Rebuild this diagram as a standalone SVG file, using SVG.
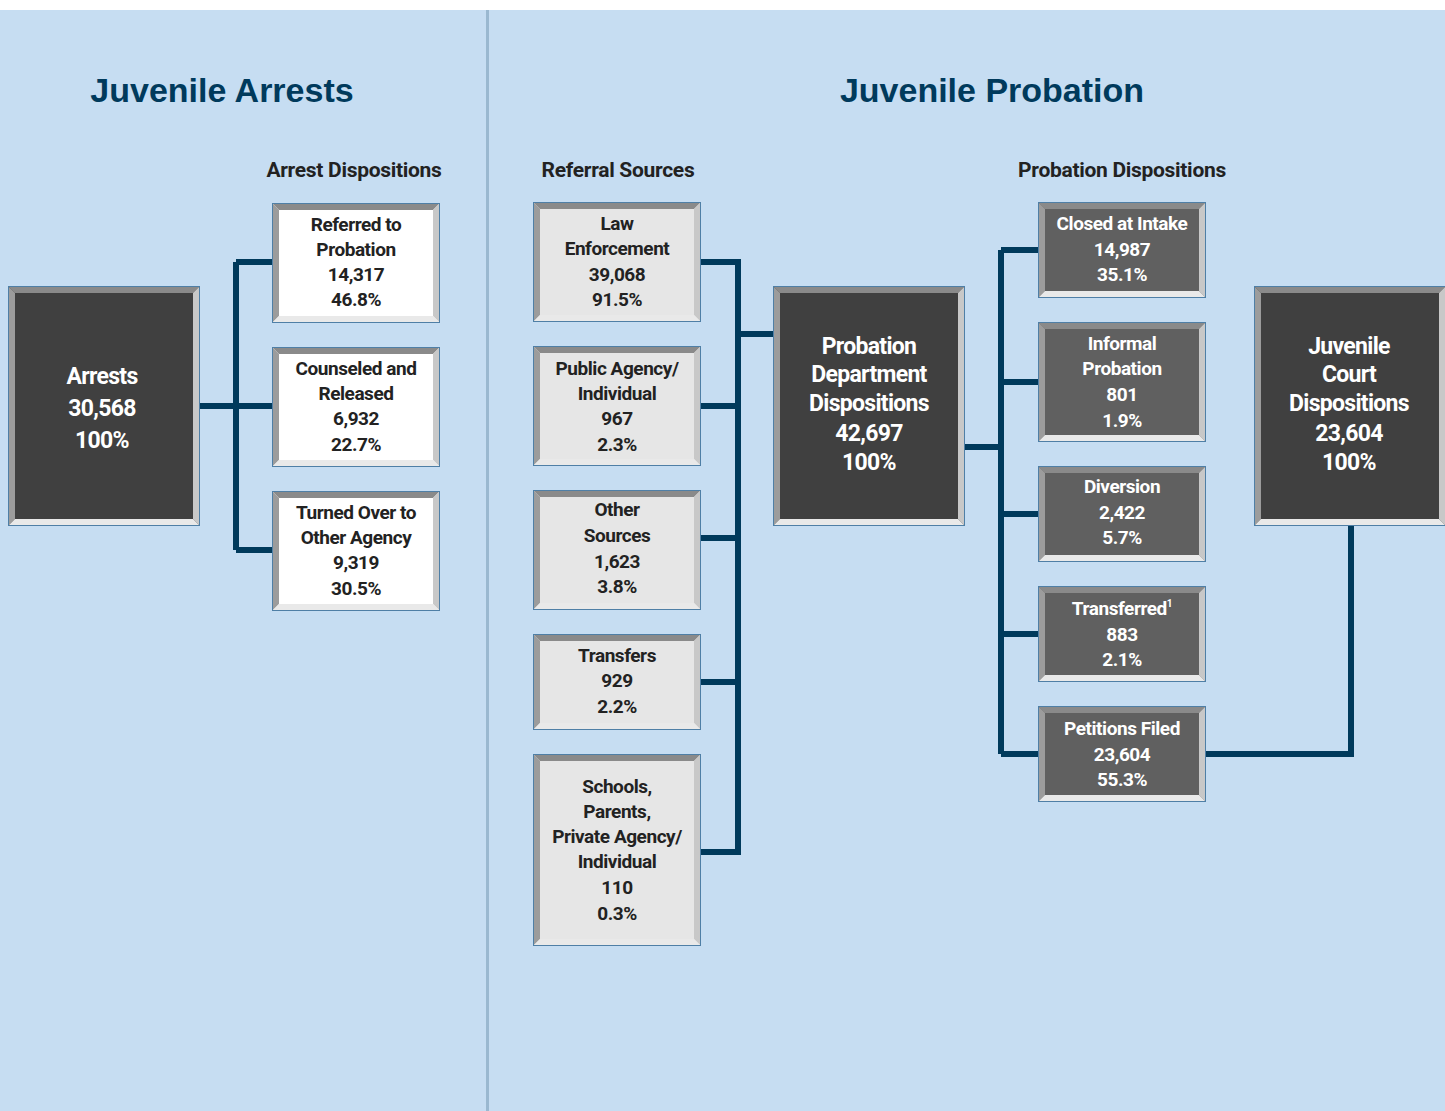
<svg xmlns="http://www.w3.org/2000/svg" xmlns:xlink="http://www.w3.org/1999/xlink" width="1445" height="1111" viewBox="0 0 1445 1111">
<style>
.bg{fill:#c6ddf2}
.div{fill:#9ab8d0}
.h1{font-family:"Liberation Sans","Noto Sans",sans-serif;font-weight:bold;font-size:34px;fill:#003a5c;text-anchor:middle}
.h2{font-family:"Roboto","Liberation Sans",sans-serif;font-weight:bold;font-size:21px;letter-spacing:-0.3px;fill:#222;text-anchor:middle}
.t{font-family:"Roboto","Liberation Sans",sans-serif;font-weight:bold;font-size:19px;letter-spacing:-0.45px;text-anchor:middle}
.tb{font-family:"Roboto","Liberation Sans",sans-serif;font-weight:bold;font-size:23px;letter-spacing:-0.7px;text-anchor:middle;fill:#fff}
.dk{fill:#fff}
.lt{fill:#222}
.fdark{fill:#404040}
.fmid{fill:#606060}
.fwhite{fill:#ffffff}
.fgray{fill:#e6e6e6}
.bt{fill:#8a8a8a}
.bl{fill:#9c9c9c}
.br{fill:#c8c8c8}
.bb{fill:#e9e9e9}
.ol{fill:none;stroke:#4f7fa6;stroke-width:1}
.c{fill:none;stroke:#003a5c;stroke-width:6;stroke-linejoin:miter}
</style>
<defs>
<g id="f192x240">
<path class="bt" d="M0,0H192L185,7H7Z"/>
<path class="bl" d="M0,0L7,7V233L0,240Z"/>
<path class="br" d="M192,0V240L185,233V7Z"/>
<path class="bb" d="M0,240L7,233H185L192,240Z"/>
<rect class="ol" x="0.5" y="0.5" width="191" height="239"/>
</g>
<g id="f168x120">
<path class="bt" d="M0,0H168L161,7H7Z"/>
<path class="bl" d="M0,0L7,7V113L0,120Z"/>
<path class="br" d="M168,0V120L161,113V7Z"/>
<path class="bb" d="M0,120L7,113H161L168,120Z"/>
<rect class="ol" x="0.5" y="0.5" width="167" height="119"/>
</g>
<g id="f168x96">
<path class="bt" d="M0,0H168L161,7H7Z"/>
<path class="bl" d="M0,0L7,7V89L0,96Z"/>
<path class="br" d="M168,0V96L161,89V7Z"/>
<path class="bb" d="M0,96L7,89H161L168,96Z"/>
<rect class="ol" x="0.5" y="0.5" width="167" height="95"/>
</g>
<g id="f168x192">
<path class="bt" d="M0,0H168L161,7H7Z"/>
<path class="bl" d="M0,0L7,7V185L0,192Z"/>
<path class="br" d="M168,0V192L161,185V7Z"/>
<path class="bb" d="M0,192L7,185H161L168,192Z"/>
<rect class="ol" x="0.5" y="0.5" width="167" height="191"/>
</g>
</defs>

<rect x="0" y="0" width="1445" height="1111" fill="#ffffff"/>
<rect class="bg" x="0" y="10" width="1445" height="1101"/>
<rect class="div" x="486" y="10" width="3" height="1101"/>

<text class="h1" x="222" y="102">Juvenile Arrests</text>
<text class="h1" x="992" y="102">Juvenile Probation</text>
<text class="h2" x="354" y="177">Arrest Dispositions</text>
<text class="h2" x="618" y="177">Referral Sources</text>
<text class="h2" x="1122" y="177">Probation Dispositions</text>

<g id="connectors">
<path class="c" d="M200,406H236M236,262V550M236,262H272M236,406H272M236,550H272"/>
<path class="c" d="M701,262H738V852H701M701,406H738M701,538H738M701,682H738M738,334H773"/>
<path class="c" d="M965,447H1001M1001,250V754M1001,250H1038M1001,382H1038M1001,514H1038M1001,634H1038M1001,754H1038"/>
<path class="c" d="M1206,754H1351V526"/>
</g>

<g id="arrests">
<rect class="fdark" x="8" y="286" width="192" height="240"/>
<use href="#f192x240" x="8" y="286"/>
<text class="tb"><tspan x="102" y="384">Arrests</tspan><tspan x="102" y="416">30,568</tspan><tspan x="102" y="448">100%</tspan></text>
</g>

<g id="referred">
<rect class="fwhite" x="272" y="203" width="168" height="120"/>
<use href="#f168x120" x="272" y="203"/>
<text class="t lt"><tspan x="356" y="231">Referred to</tspan><tspan x="356" y="256">Probation</tspan><tspan x="356" y="281">14,317</tspan><tspan x="356" y="306">46.8%</tspan></text>
</g>

<g id="counseled">
<rect class="fwhite" x="272" y="347" width="168" height="120"/>
<use href="#f168x120" x="272" y="347"/>
<text class="t lt"><tspan x="356" y="375">Counseled and</tspan><tspan x="356" y="400">Released</tspan><tspan x="356" y="425">6,932</tspan><tspan x="356" y="451">22.7%</tspan></text>
</g>

<g id="turned-over">
<rect class="fwhite" x="272" y="491" width="168" height="120"/>
<use href="#f168x120" x="272" y="491"/>
<text class="t lt"><tspan x="356" y="519">Turned Over to</tspan><tspan x="356" y="544">Other Agency</tspan><tspan x="356" y="569">9,319</tspan><tspan x="356" y="595">30.5%</tspan></text>
</g>

<g id="law-enforcement">
<rect class="fgray" x="533" y="202" width="168" height="120"/>
<use href="#f168x120" x="533" y="202"/>
<text class="t lt"><tspan x="617" y="230">Law</tspan><tspan x="617" y="255">Enforcement</tspan><tspan x="617" y="281">39,068</tspan><tspan x="617" y="306">91.5%</tspan></text>
</g>

<g id="public-agency">
<rect class="fgray" x="533" y="346" width="168" height="120"/>
<use href="#f168x120" x="533" y="346"/>
<text class="t lt"><tspan x="617" y="375">Public Agency/</tspan><tspan x="617" y="400">Individual</tspan><tspan x="617" y="425">967</tspan><tspan x="617" y="451">2.3%</tspan></text>
</g>

<g id="other-sources">
<rect class="fgray" x="533" y="490" width="168" height="120"/>
<use href="#f168x120" x="533" y="490"/>
<text class="t lt"><tspan x="617" y="516">Other</tspan><tspan x="617" y="542">Sources</tspan><tspan x="617" y="568">1,623</tspan><tspan x="617" y="593">3.8%</tspan></text>
</g>

<g id="transfers">
<rect class="fgray" x="533" y="634" width="168" height="96"/>
<use href="#f168x96" x="533" y="634"/>
<text class="t lt"><tspan x="617" y="662">Transfers</tspan><tspan x="617" y="687">929</tspan><tspan x="617" y="713">2.2%</tspan></text>
</g>

<g id="schools">
<rect class="fgray" x="533" y="754" width="168" height="192"/>
<use href="#f168x192" x="533" y="754"/>
<text class="t lt"><tspan x="617" y="793">Schools,</tspan><tspan x="617" y="818">Parents,</tspan><tspan x="617" y="843">Private Agency/</tspan><tspan x="617" y="868">Individual</tspan><tspan x="617" y="894">110</tspan><tspan x="617" y="920">0.3%</tspan></text>
</g>

<g id="probation-dept">
<rect class="fdark" x="773" y="286" width="192" height="240"/>
<use href="#f192x240" x="773" y="286"/>
<text class="tb"><tspan x="869" y="354">Probation</tspan><tspan x="869" y="382">Department</tspan><tspan x="869" y="411">Dispositions</tspan><tspan x="869" y="441">42,697</tspan><tspan x="869" y="470">100%</tspan></text>
</g>

<g id="closed-intake">
<rect class="fmid" x="1038" y="202" width="168" height="96"/>
<use href="#f168x96" x="1038" y="202"/>
<text class="t dk"><tspan x="1122" y="230">Closed at Intake</tspan><tspan x="1122" y="256">14,987</tspan><tspan x="1122" y="281">35.1%</tspan></text>
</g>

<g id="informal-probation">
<rect class="fmid" x="1038" y="322" width="168" height="120"/>
<use href="#f168x120" x="1038" y="322"/>
<text class="t dk"><tspan x="1122" y="350">Informal</tspan><tspan x="1122" y="375">Probation</tspan><tspan x="1122" y="401">801</tspan><tspan x="1122" y="427">1.9%</tspan></text>
</g>

<g id="diversion">
<rect class="fmid" x="1038" y="466" width="168" height="96"/>
<use href="#f168x96" x="1038" y="466"/>
<text class="t dk"><tspan x="1122" y="493">Diversion</tspan><tspan x="1122" y="519">2,422</tspan><tspan x="1122" y="544">5.7%</tspan></text>
</g>

<g id="transferred">
<rect class="fmid" x="1038" y="586" width="168" height="96"/>
<use href="#f168x96" x="1038" y="586"/>
<text class="t dk"><tspan x="1122" y="615">Transferred<tspan font-size="10" dy="-8">1</tspan></tspan><tspan x="1122" y="641">883</tspan><tspan x="1122" y="666">2.1%</tspan></text>
</g>

<g id="petitions-filed">
<rect class="fmid" x="1038" y="706" width="168" height="96"/>
<use href="#f168x96" x="1038" y="706"/>
<text class="t dk"><tspan x="1122" y="735">Petitions Filed</tspan><tspan x="1122" y="761">23,604</tspan><tspan x="1122" y="786">55.3%</tspan></text>
</g>

<g id="juvenile-court">
<rect class="fdark" x="1254" y="286" width="192" height="240"/>
<use href="#f192x240" x="1254" y="286"/>
<text class="tb"><tspan x="1349" y="354">Juvenile</tspan><tspan x="1349" y="382">Court</tspan><tspan x="1349" y="411">Dispositions</tspan><tspan x="1349" y="441">23,604</tspan><tspan x="1349" y="470">100%</tspan></text>
</g>
</svg>
